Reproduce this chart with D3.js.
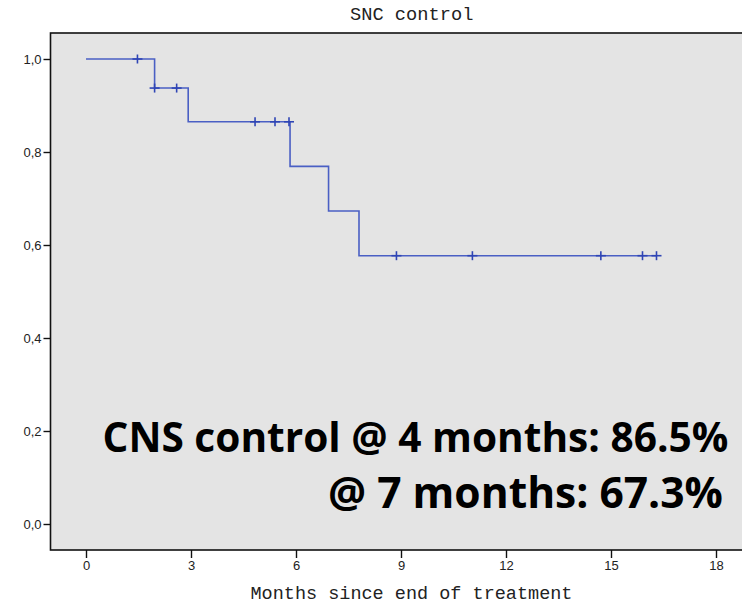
<!DOCTYPE html>
<html>
<head>
<meta charset="utf-8">
<script src="https://cdn.jsdelivr.net/npm/d3@7/dist/d3.min.js"></script>
<style>
  html, body { margin: 0; padding: 0; background: #fff; }
  svg { display: block; }
</style>
</head>
<body>
<svg id="chart" width="742" height="604"></svg>
<script>
// Kaplan-Meier estimate of CNS control
const eventTimes = [0, 1.96, 2.92, 5.83, 6.93, 7.8];          // months
const survival   = [1.0, 0.9375, 0.865, 0.769, 0.673, 0.577];  // proportion after each step
const lastFollowUp = 16.3;
const censorTimes = [1.47, 1.96, 2.59, 4.83, 5.4, 5.8, 8.87, 11.04, 14.71, 15.9, 16.3];
const xTicks = [0, 3, 6, 9, 12, 15, 18];
const yTicks = [0, 0.2, 0.4, 0.6, 0.8, 1.0];
const titleText = "SNC control";
const xLabel = "Months since end of treatment";
const noteLines = ["CNS control @ 4 months: 86.5%", "@ 7 months: 67.3%"];

const svg = d3.select("#chart");

const frame = { left: 50.5, top: 33, right: 790, bottom: 550 };
const x = d3.scaleLinear().domain([0, 18]).range([86, 716]);
const y = d3.scaleLinear().domain([0, 1]).range([524, 59]);

// plot area
svg.append("rect")
  .attr("x", frame.left).attr("y", frame.top)
  .attr("width", frame.right - frame.left)
  .attr("height", frame.bottom - frame.top)
  .attr("fill", "#e4e4e4")
  .attr("stroke", "#111").attr("stroke-width", 1.6);

// survival at time t (step function, right-continuous)
function survAt(t) {
  let s = survival[0];
  eventTimes.forEach((et, i) => { if (et <= t) s = survival[i]; });
  return s;
}

const stepPts = eventTimes.map((t, i) => [t, survival[i]]);
stepPts.push([lastFollowUp, survAt(lastFollowUp)]);

const line = d3.line()
  .x(d => x(d[0])).y(d => y(d[1]))
  .curve(d3.curveStepAfter);

svg.append("path")
  .datum(stepPts)
  .attr("d", line)
  .attr("fill", "none")
  .attr("stroke", "#4a5fc4")
  .attr("stroke-width", 1.6);

// censoring marks
const cens = svg.append("g").attr("stroke", "#2f45b5").attr("stroke-width", 1.6);
censorTimes.forEach(t => {
  const cx = x(t), cy = y(survAt(t));
  cens.append("line").attr("x1", cx - 5).attr("x2", cx + 5).attr("y1", cy).attr("y2", cy);
  cens.append("line").attr("x1", cx).attr("x2", cx).attr("y1", cy - 4.5).attr("y2", cy + 4.5);
});

// y axis
const yAxis = d3.axisLeft(y)
  .tickValues(yTicks)
  .tickSize(7)
  .tickPadding(2)
  .tickFormat(d => d3.format(".1f")(d).replace(".", ","));
const gy = svg.append("g").attr("transform", `translate(${frame.left},0)`).call(yAxis);
gy.select(".domain").remove();
gy.selectAll("line").attr("stroke", "#111").attr("stroke-width", 1.4);
gy.selectAll("text")
  .attr("font-family", "'Liberation Sans', Arial, sans-serif")
  .attr("font-size", 13).attr("fill", "#222");

// x axis
const xAxis = d3.axisBottom(x)
  .tickValues(xTicks)
  .tickSize(8)
  .tickPadding(3)
  .tickFormat(d3.format("d"));
const gx = svg.append("g").attr("transform", `translate(0,${frame.bottom})`).call(xAxis);
gx.select(".domain").remove();
gx.selectAll("line").attr("stroke", "#111").attr("stroke-width", 1.4);
gx.selectAll("text")
  .attr("font-family", "'Liberation Sans', Arial, sans-serif")
  .attr("font-size", 13).attr("fill", "#222");

// title and axis label
svg.append("text")
  .attr("x", 350).attr("y", 20)
  .attr("font-family", "'Liberation Mono', 'Courier New', monospace")
  .attr("font-size", 18.7).attr("fill", "#222")
  .text(titleText);

svg.append("text")
  .attr("x", 250.5).attr("y", 598.5)
  .attr("font-family", "'Liberation Mono', 'Courier New', monospace")
  .attr("font-size", 18.5).attr("fill", "#222")
  .text(xLabel);

// annotation: font size chosen so each line spans its target width
const noteFont = "'Open Sans', 'Noto Sans', sans-serif";
function fitText(str, xStart, yBase, width) {
  const t = svg.append("text")
    .attr("x", xStart).attr("y", yBase)
    .attr("font-family", noteFont).attr("font-weight", 700)
    .attr("font-size", 42).attr("fill", "#000")
    .text(str);
  const w = t.node().getComputedTextLength();
  t.attr("font-size", 42 * width / w);
  return t;
}
fitText(noteLines[0], 102.5, 451.5, 626);
fitText(noteLines[1], 328, 507.5, 395);
</script>
</body>
</html>
